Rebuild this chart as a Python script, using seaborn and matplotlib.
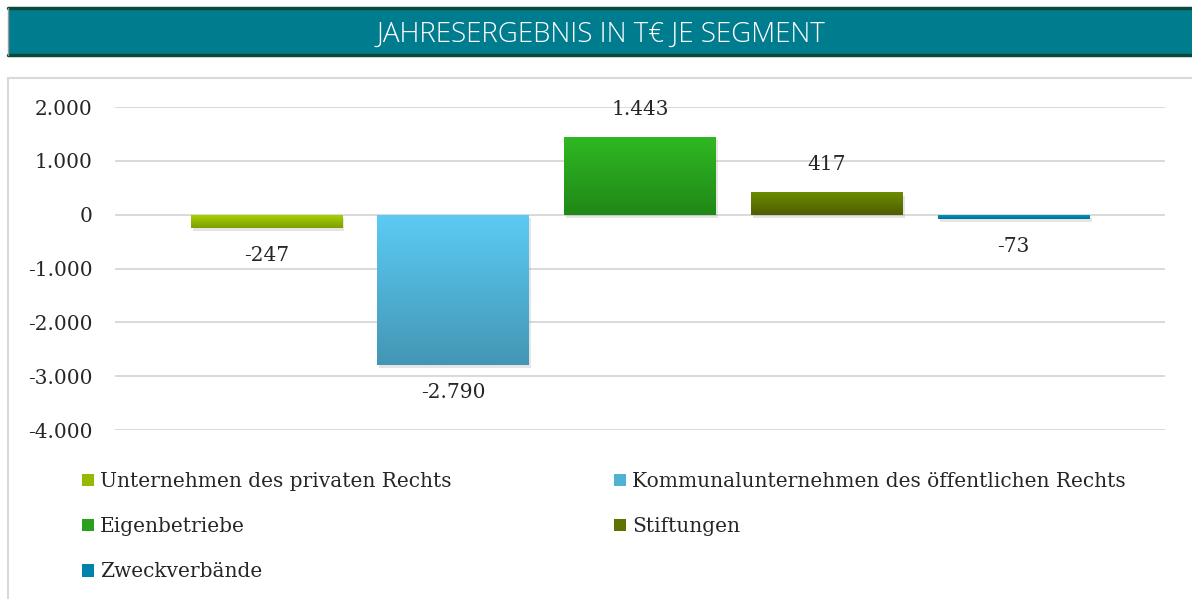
import numpy as np
import pandas as pd
import seaborn as sns
import matplotlib.pyplot as plt
import matplotlib.patheffects as pe
from matplotlib.patches import Rectangle, Patch
from matplotlib.colors import LinearSegmentedColormap
from matplotlib.lines import Line2D

# data
segments = ['Unternehmen des privaten Rechts',
            'Kommunalunternehmen des öffentlichen Rechts',
            'Eigenbetriebe',
            'Stiftungen',
            'Zweckverbände']
values = [-247, -2790, 1443, 417, -73]
y_ticks = [-4000, -3000, -2000, -1000, 0, 1000, 2000]
title = 'JAHRESERGEBNIS IN T€ JE SEGMENT'

# gradient colours (top, bottom) per bar
top_colors = ['#aad400', '#5ccbf4', '#2fb823', '#6b8c00', '#0094c4']
bottom_colors = ['#7f9f00', '#4396b5', '#208817', '#4e5e00', '#006f8e']
mid_colors = ['#95ba00', '#50b1d6', '#28a01e', '#5d7500', '#0082aa']

def de_fmt(v):
    return f'{v:,.0f}'.replace(',', '.')

sns.set_theme(style='white')
plt.rcParams['font.family'] = ['DejaVu Serif']

W, H = 1192, 599
fig = plt.figure(figsize=(W / 100, H / 100), dpi=100)

# title banner
fig.patches.append(Rectangle((8 / W, 1 - 56 / H), 1 - 8 / W, 49 / H, transform=fig.transFigure,
                             facecolor='#007c8f', edgecolor='none', zorder=-2))
for yy in (1 - 8 / H, 1 - 55 / H):
    fig.lines.append(Line2D([8 / W, 1], [yy, yy], transform=fig.transFigure, color='#0b4a3a', lw=2.5, zorder=-1))
fig.lines.append(Line2D([8 / W, 8 / W], [1 - 8 / H, 1 - 55 / H], transform=fig.transFigure,
                        color='#9a9a9a', lw=1, zorder=-1))
fig.text(601 / W, 1 - 35 / H, title, color='white', ha='center', va='center',
         fontsize=20, fontweight='light', family=['Open Sans', 'DejaVu Sans'])

# plot area frame
fig.patches.append(Rectangle((8 / W, -0.01), 1.0, 1 - 78 / H + 0.01, transform=fig.transFigure,
                             facecolor='none', edgecolor='#d9d9d9', lw=1.5, zorder=-2))

ax = fig.add_axes([115 / W, 1 - 430 / H, 1050 / W, (430 - 107) / H])
ax.set_zorder(1)
ax.set_facecolor('none')

df = pd.DataFrame({'Segment': segments, 'Wert': values, 'Gruppe': [''] * len(values)})
sns.barplot(data=df, x='Gruppe', y='Wert', hue='Segment', hue_order=segments,
            palette=mid_colors, width=0.89, gap=0.19, errorbar=None, legend=False,
            linewidth=0, edgecolor='none', ax=ax)

ax.set_ylim(-4000, 2000)
ax.set_xlim(-0.5, 0.5)
ax.set_yticks(y_ticks)
ax.set_yticklabels([de_fmt(t) for t in y_ticks])
ax.tick_params(axis='y', length=0, pad=16, labelsize=14.5, labelcolor='#262626')
ax.set_xticks([])
ax.set_xlabel('')
ax.set_ylabel('')
ax.grid(axis='y', color='#d9d9d9', lw=1.4, zorder=0)
ax.set_axisbelow(True)
for s in ax.spines.values():
    s.set_visible(False)

# vertical gradient (light on top, dark below) and soft shadow on every bar
for i, cont in enumerate(ax.containers):
    cmap = LinearSegmentedColormap.from_list(f'g{i}', [bottom_colors[i], top_colors[i]])
    for bar in cont:
        bar.set_path_effects([pe.SimplePatchShadow(offset=(1.5, -2.5), shadow_rgbFace='#999999', alpha=0.25),
                              pe.Normal()])
        bb = bar.get_bbox()
        y_lo, y_hi = min(bb.y0, bb.y1), max(bb.y0, bb.y1)
        grad = np.linspace(0, 1, 100).reshape(-1, 1)
        im = ax.imshow(grad, cmap=cmap, origin='lower', aspect='auto',
                       extent=[bb.x0, bb.x1, y_lo, y_hi], zorder=3)
        im.set_clip_path(bar)
    ax.bar_label(cont, labels=[de_fmt(v) for v in cont.datavalues], padding=13,
                 fontsize=14.5, color='#262626')

ax.set_ylim(-4000, 2000)
ax.set_xlim(-0.5, 0.5)

# legend, two columns filled row-wise like the original
order = [0, 2, 4, 1, 3]
handles = [Patch(facecolor=mid_colors[k], edgecolor='none') for k in order]
labels = [segments[k] for k in order]
fig.legend(handles, labels, ncol=2, mode='expand', loc='upper left',
           bbox_to_anchor=(82 / W, 1 - 478 / H, (1126 - 82) / W, 0.01),
           frameon=False, fontsize=14.5, handlelength=0.6, handleheight=0.6,
           handletextpad=0.3, labelspacing=1.3, borderaxespad=0, borderpad=0,
           labelcolor='#262626')

fig.savefig('out.png', dpi=100)
